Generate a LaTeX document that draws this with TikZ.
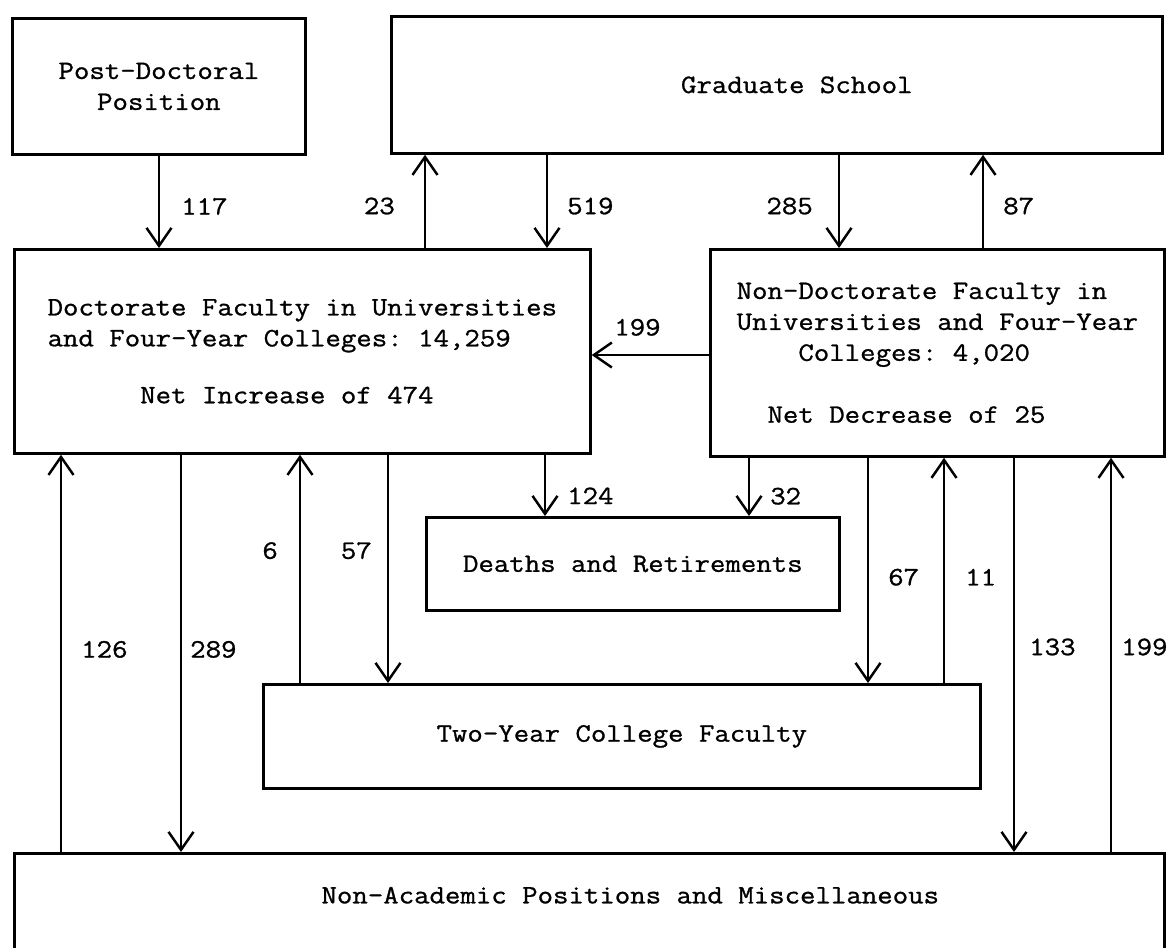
\documentclass[tikz,border=0pt]{standalone}
\usepackage{fontspec}
\setmonofont{Latin Modern Mono}[FakeStretch=1.13, FakeBold=1.0]
\usetikzlibrary{arrows.meta}

\tikzset{
  box/.style={draw, line width=1.6pt, anchor=north west},
  lbl/.style={inner sep=0pt}
}

\begin{document}
\begin{tikzpicture}[x=0.02cm, y=-0.02cm, line width=1.4pt,
    >={Straight Barb[length=0.36cm,width=0.5cm]},
    font=\ttfamily\fontsize{15.1}{17.6}\selectfont]
  \useasboundingbox (0,0) rectangle (1168,947);
  \node (postdoc) [box, align=center, minimum width=5.86cm, minimum height=2.72cm] at (11,17) {Post-Doctoral\\Position};
  \node (grad) [box, minimum width=15.42cm, minimum height=2.74cm] at (390,15) {\hspace*{0.8cm}Graduate School};
  \node (doct) [box, align=left, minimum width=11.52cm, minimum height=4.08cm] at (13,248)
    {Doctorate Faculty in Universities\\and Four-Year Colleges: 14,259\\[0.52cm]\hphantom{000000}Net Increase of 474};
  \node (nondoct) [box, align=left, minimum width=9.08cm, minimum height=4.14cm] at (709,248)
    {Non-Doctorate Faculty in\\Universities and Four-Year\\\hphantom{0000}Colleges: 4,020\\[0.62cm]\hphantom{00}Net Decrease of 25};
  \node (deaths) [box, minimum width=8.26cm, minimum height=1.86cm] at (425,516) {Deaths and Retirements};
  \node (twoyear) [box, minimum width=14.34cm, minimum height=2.08cm] at (262,683) {Two-Year College Faculty};
  \node (nonacad) [box, inner sep=0pt, text height=1cm, text depth=1.1cm, minimum width=23cm] at (13,852)
    {\hspace*{1.64cm}Non-Academic Positions and Miscellaneous};
  \path[->]
    (postdoc.south -| 159,0) edge node[lbl, pos=.55, right=.42cm] {117} (doct.north -| 159,0)
    (doct.north -| 425,0) edge node[lbl, pos=.45, left=.58cm] {23} (grad.south -| 425,0)
    (grad.south -| 547,0) edge node[lbl, pos=.55, right=.38cm] {519} (doct.north -| 547,0)
    (grad.south -| 839,0) edge node[lbl, pos=.55, left=.5cm] {285} (nondoct.north -| 839,0)
    (nondoct.north -| 983,0) edge node[lbl, pos=.45, right=.38cm] {87} (grad.south -| 983,0)
    (nondoct.west |- 0,355) edge node[lbl, pos=.61, above=.36cm] {199} (doct.east |- 0,355)
    (doct.south -| 545,0) edge node[lbl, pos=.67, right=.42cm] {124} (deaths.north -| 545,0)
    (nondoct.south -| 749,0) edge node[lbl, pos=.66, right=.4cm] {32} (deaths.north -| 749,0)
    (twoyear.north -| 300,0) edge node[lbl, pos=.58, left=.42cm] {6} (doct.south -| 300,0)
    (doct.south -| 388,0) edge node[lbl, pos=.42, left=.3cm] {57} (twoyear.north -| 388,0)
    (nondoct.south -| 868,0) edge node[lbl, pos=.53, right=.38cm] {67} (twoyear.north -| 868,0)
    (twoyear.north -| 944,0) edge node[lbl, pos=.47, right=.4cm] {11} (nondoct.south -| 944,0)
    (nonacad.north -| 61,0) edge node[lbl, pos=.51, right=.38cm] {126} (doct.south -| 61,0)
    (doct.south -| 181,0) edge node[lbl, pos=.49, right=.16cm] {289} (nonacad.north -| 181,0)
    (nondoct.south -| 1014,0) edge node[lbl, pos=.48, right=.28cm] {133} (nonacad.north -| 1014,0)
    (nonacad.north -| 1111,0) edge node[lbl, pos=.52, right=.18cm] {199} (nondoct.south -| 1111,0);
\end{tikzpicture}
\end{document}
